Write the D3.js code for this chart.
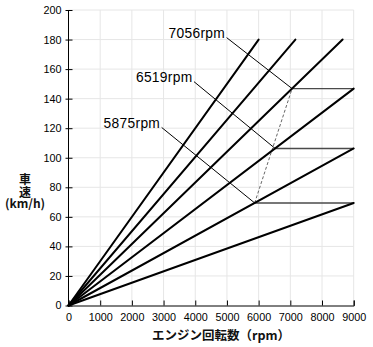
<!DOCTYPE html>
<html><head><meta charset="utf-8">
<script src="https://cdn.jsdelivr.net/npm/d3@7"></script>
<style>
html,body{margin:0;padding:0;background:#fff;}
svg{display:block;}
</style></head>
<body>
<script>
// ---- data ----
const xTicks = [0,1000,2000,3000,4000,5000,6000,7000,8000,9000];
const yTicks = [0,20,40,60,80,100,120,140,160,180,200];
// gear lines from origin: end points
const gearEndRpm   = [9000, 9000, 9000, 8650, 7160, 6000];
const gearEndSpeed = [69.4, 106.3, 146.8, 180, 180, 180];
// shift points
const shiftRpm   = [5875, 6519, 7056];
const shiftSpeed = [69.4, 106.3, 146.8];
const shiftLabels = ["5875rpm", "6519rpm", "7056rpm"];
// label anchor (leader start) in data units
const labelRpm   = [2940, 3960, 4990];
const labelSpeed = [120.5, 151.5, 181.3];
const xTitle = "エンジン回転数（rpm）";
const yTitleTop = "車速";
const yTitleUnit = "(km/h)";

// ---- layout ----
const W = 373, H = 347;
const x = d3.scaleLinear().domain([0, 9000]).range([68.5, 353.7]);
const y = d3.scaleLinear().domain([0, 200]).range([305.5, 10]);

const svg = d3.select("body").append("svg").attr("width", W).attr("height", H);

// grid
const grid = svg.append("g").attr("stroke", "#e6e6e6").attr("stroke-width", 1);
grid.selectAll("line.v").data(xTicks.filter(d => d > 0)).join("line")
  .attr("x1", d => x(d)).attr("x2", d => x(d)).attr("y1", y(0)).attr("y2", y(200));
grid.selectAll("line.h").data(yTicks.filter(d => d > 0)).join("line")
  .attr("class", "h")
  .attr("x1", x(0)).attr("x2", x(9000)).attr("y1", d => y(d)).attr("y2", d => y(d));

// axes
const xAxis = d3.axisBottom(x).tickValues(xTicks).tickSize(-5).tickPadding(8).tickFormat(d3.format("d"));
const gx = svg.append("g").attr("transform", `translate(0,${y(0)})`).call(xAxis);
gx.selectAll("text").attr("font-family", "Liberation Sans, Arial, sans-serif").attr("font-size", 10.8).attr("fill", "#000");
gx.select(".domain").attr("stroke", "#000");
gx.selectAll(".tick line").attr("stroke", "#000");

const yAxis = d3.axisLeft(y).tickValues(yTicks).tickSize(3).tickPadding(4).tickFormat(d3.format("d"));
const gy = svg.append("g").attr("transform", `translate(${x(0)},0)`).call(yAxis);
gy.selectAll("text").attr("font-family", "Liberation Sans, Arial, sans-serif").attr("font-size", 10.8).attr("fill", "#000");
gy.select(".domain").attr("stroke", "#000").attr("d", `M0,${y(0)}V${y(200)}`);
gy.selectAll(".tick line").attr("stroke", "#000").attr("x1", 4).attr("x2", -3);

// horizontal shift lines
svg.append("g").selectAll("line").data(shiftRpm).join("line")
  .attr("x1", d => x(d)).attr("x2", x(9000))
  .attr("y1", (d, i) => y(shiftSpeed[i])).attr("y2", (d, i) => y(shiftSpeed[i]))
  .attr("stroke", "#4a4a4a").attr("stroke-width", 1.4);

// dashed connector
svg.append("line")
  .attr("x1", x(shiftRpm[0])).attr("y1", y(shiftSpeed[0]))
  .attr("x2", x(shiftRpm[2])).attr("y2", y(shiftSpeed[2]))
  .attr("stroke", "#666").attr("stroke-width", 1).attr("stroke-dasharray", "3,2");

// leader lines
svg.append("g").selectAll("line").data(shiftRpm).join("line")
  .attr("x1", (d, i) => x(labelRpm[i])).attr("y1", (d, i) => y(labelSpeed[i]))
  .attr("x2", d => x(d)).attr("y2", (d, i) => y(shiftSpeed[i]))
  .attr("stroke", "#000").attr("stroke-width", 1);

// gear lines
svg.append("g").selectAll("line").data(gearEndRpm).join("line")
  .attr("x1", x(0)).attr("y1", y(0))
  .attr("x2", d => x(d)).attr("y2", (d, i) => y(gearEndSpeed[i]))
  .attr("stroke", "#000").attr("stroke-width", 2).attr("stroke-linecap", "round");

// labels
svg.append("g").selectAll("text").data(shiftLabels).join("text")
  .attr("x", (d, i) => x(labelRpm[i]) - 1.5)
  .attr("y", (d, i) => y(labelSpeed[i]) + 0.5)
  .attr("text-anchor", "end")
  .attr("font-family", "Liberation Sans, Arial, sans-serif")
  .attr("font-size", 13.8).attr("letter-spacing", 0.3)
  .attr("fill", "#000")
  .text(d => d);

// axis titles
svg.append("text").attr("x", 221).attr("y", 339.5).attr("text-anchor", "middle")
  .attr("font-family", "Noto Sans CJK JP, sans-serif").attr("font-weight", "bold")
  .attr("font-size", 12.5).attr("fill", "#111").text(xTitle);

svg.append("text")
  .attr("x", 25).attr("y", 173)
  .attr("style", "writing-mode: vertical-rl;")
  .attr("font-family", "Noto Sans CJK JP, sans-serif").attr("font-weight", "bold")
  .attr("font-size", 12).attr("letter-spacing", 1)
  .attr("fill", "#111").text(yTitleTop);

svg.append("text")
  .attr("x", 25).attr("y", 207.5)
  .attr("text-anchor", "middle")
  .attr("font-family", "Noto Sans CJK JP, sans-serif").attr("font-weight", "bold")
  .attr("font-size", 12)
  .attr("fill", "#111").text(yTitleUnit);
</script>
</body></html>
